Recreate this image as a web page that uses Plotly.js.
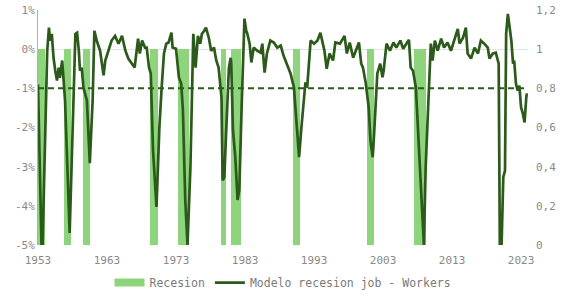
<!DOCTYPE html>
<html>
<head>
<meta charset="utf-8">
<script src="https://cdn.plot.ly/plotly-3.0.1.min.js"></script>
<style>
  html, body { margin: 0; padding: 0; background: #fff; }
  #chart { width: 584px; height: 300px; }
</style>
</head>
<body>
<div id="chart"></div>
<script>
// Recession model for job data (monthly, % change) with NBER-style recession periods.
const modelDates = [
  '1953-07','1954-01','1954-03','1954-11','1955-02','1955-04','1955-07','1955-10','1956-01','1956-04',
  '1956-07','1956-09','1957-01','1957-04','1957-06','1958-02','1958-09','1958-12','1959-03','1959-06',
  '1959-08','1959-11','1960-02','1960-08','1961-01','1961-03','1961-06','1961-09','1962-01','1962-07',
  '1963-01','1963-04','1963-09','1964-03','1964-09','1965-03','1965-09','1966-03','1966-08','1967-02',
  '1967-07','1968-01','1968-04','1968-08','1969-01','1969-04','1969-08','1969-11','1970-03','1970-09',
  '1971-02','1971-06','1971-10','1972-02','1972-06','1972-11','1973-01','1973-07','1973-12','1974-04',
  '1974-07','1974-11','1975-03','1975-08','1975-11','1976-01','1976-05','1976-09','1977-01','1977-04',
  '1977-08','1977-11','1978-04','1978-08','1979-01','1979-05','1979-09','1980-02','1980-04','1980-07',
  '1980-10','1981-01','1981-03','1981-06','1981-07','1981-10','1982-02','1982-06','1982-09','1983-01',
  '1983-04','1983-06','1983-09','1983-11','1984-03','1984-06','1984-10','1985-04','1985-10','1986-01',
  '1986-05','1986-09','1987-03','1987-09','1988-03','1988-09','1989-02','1989-08','1990-02','1990-08',
  '1991-01','1991-05','1991-09','1992-01','1992-04','1992-07','1992-10','1993-01','1993-07','1994-01',
  '1994-06','1994-08','1995-01','1995-05','1995-10','1996-04','1996-08','1997-04','1997-12','1998-04',
  '1998-09','1999-03','1999-09','2000-01','2000-05','2000-08','2001-01','2001-06','2001-09','2002-01',
  '2002-04','2002-07','2002-09','2003-02','2003-06','2003-08','2004-01','2004-07','2005-01','2005-06',
  '2006-01','2006-06','2006-12','2007-04','2007-07','2007-11','2008-04','2008-08','2009-01','2009-06',
  '2009-09','2010-04','2010-06','2010-09','2011-01','2011-06','2011-12','2012-05','2012-11','2013-05',
  '2013-11','2014-05','2014-08','2015-02','2015-07','2015-10','2016-04','2016-10','2017-04','2017-09',
  '2018-03','2018-09','2018-12','2019-06','2019-11','2020-04','2020-05','2020-06','2020-09','2020-12',
  '2021-03','2021-05','2021-08','2021-11','2022-02','2022-05','2022-07','2022-10','2023-01','2023-04',
  '2023-07','2023-10','2024-01','2024-04','2024-05'
];
const modelValues = [
  -0.9,-5.0,-5.0,-0.04,0.55,0.22,0.39,-0.22,-0.55,-0.8,
  -0.47,-0.73,-0.29,-0.8,-1.31,-4.69,-1.31,0.39,0.42,-0.04,
  -0.55,-0.47,-0.98,-1.31,-2.91,-2.4,-1.31,0.47,0.22,-0.04,
  -0.67,-0.29,-0.04,0.22,0.34,0.14,0.34,-0.04,-0.24,-0.37,
  -0.47,0.27,-0.11,0.22,0.04,0.04,-0.47,-0.62,-2.58,-4.03,
  -2.0,-0.98,-0.11,0.14,0.17,0.42,0.04,0.01,-0.73,-0.88,
  -1.56,-3.85,-5.0,-3.02,-0.47,0.39,-0.47,0.34,0.14,0.39,
  0.47,0.55,0.29,-0.04,0.04,-0.29,-0.47,-1.23,-3.35,-3.27,
  -2.15,-1.13,-0.47,-0.22,-0.37,-2.07,-2.76,-3.85,-3.6,-1.49,
  -0.04,0.78,0.47,0.39,0.14,-0.34,0.04,-0.04,-0.09,0.14,
  -0.6,-0.11,0.22,0.17,0.04,0.09,-0.17,-0.37,-0.62,-0.98,
  -2.07,-2.76,-2.0,-1.31,-0.85,-0.98,-0.47,0.22,0.14,0.22,
  0.42,0.29,-0.04,-0.5,-0.11,-0.29,0.17,0.14,0.34,-0.11,
  0.17,-0.22,0.04,0.17,-0.37,-0.47,-0.88,-1.49,-2.33,-2.76,
  -2.0,-1.31,-0.62,-0.37,-0.72,-0.55,0.14,-0.04,0.17,0.04,
  0.22,0.01,0.17,0.24,-0.47,-0.55,-0.98,-2.15,-3.85,-5.0,
  -3.02,-0.72,0.14,-0.29,0.22,-0.04,0.27,0.04,0.17,-0.04,
  0.22,0.52,0.14,0.29,0.55,-0.11,-0.24,0.04,-0.11,0.22,
  0.14,0.04,-0.24,-0.11,-0.09,-0.37,-2.58,-5.0,-5.0,-3.27,
  -3.1,0.39,0.9,0.55,0.22,-0.37,-0.29,-0.88,-1.06,-0.93,
  -1.49,-1.64,-1.87,-1.23,-1.13
];

// Recession periods (first and last month) and the signal threshold.
const recessionStart = ['1953-07','1957-05','1960-02','1969-10','1973-10','1980-01','1981-06','1990-07','2001-03','2008-01'];
const recessionEnd   = ['1954-06','1958-03','1961-01','1970-10','1975-04','1980-08','1982-11','1991-05','2002-02','2009-08'];
const recessionLevel = 1;
const threshold = -1;

// Axis ticks
const xTickVals = ['1953-07-01','1963-07-01','1973-07-01','1983-07-01','1993-07-01','2003-07-01','2013-07-01','2023-07-01'];
const xTickText = ['1953','1963','1973','1983','1993','2003','2013','2023'];
const leftTickVals = [1, 0, -1, -2, -3, -4, -5];
const leftTickText = ['1%', '0%', '-1%', '-2%', '-3%', '-4%', '-5%'];
const rightTickVals = [0, 0.2, 0.4, 0.6, 0.8, 1, 1.2];
const rightTickText = ['0', '0,2', '0,4', '0,6', '0,8', '1', '1,2'];

const BAR_GREEN = '#8dd47c';
const LINE_GREEN = '#2b5a1b';
const TEXT_GREY = '#8a8a8a';
const FONT = 'DejaVu Sans Mono, monospace';

// Each recession becomes one bar spanning its months.
function monthStart(s) { return Date.parse(s + '-01T00:00:00Z'); }
function nextMonth(s) {
  const [y, m] = s.split('-').map(Number);
  return Date.UTC(m === 12 ? y + 1 : y, m === 12 ? 0 : m, 1);
}
const barX = [], barW = [], barY = [];
recessionStart.forEach((s, i) => {
  const a = monthStart(s), b = nextMonth(recessionEnd[i]);
  barX.push(new Date((a + b) / 2).toISOString());
  barW.push(b - a);
  barY.push(recessionLevel);
});

const xFirst = modelDates[0];
const xLast = modelDates[modelDates.length - 1];

const traces = [
  {
    type: 'bar', x: barX, y: barY, width: barW,
    marker: { color: BAR_GREEN, line: { width: 0 } },
    xaxis: 'x', yaxis: 'y', showlegend: false, hoverinfo: 'skip', name: 'Recesion'
  },
  {
    type: 'scatter', mode: 'lines', x: [null], y: [null],
    line: { color: BAR_GREEN, width: 8 },
    xaxis: 'x', yaxis: 'y2', name: 'Recesion', showlegend: true
  },
  {
    type: 'scatter', mode: 'lines', x: [xFirst, xLast], y: [threshold, threshold],
    line: { color: LINE_GREEN, width: 2, dash: '6px,4px' },
    xaxis: 'x', yaxis: 'y2', showlegend: false, hoverinfo: 'skip'
  },
  {
    type: 'scatter', mode: 'lines', x: modelDates, y: modelValues,
    line: { color: LINE_GREEN, width: 2.7 },
    xaxis: 'x', yaxis: 'y2', name: 'Modelo recesion job - Workers'
  }
];

const layout = {
  width: 584, height: 300,
  margin: { l: 38, r: 56, t: 10, b: 55, autoexpand: false },
  paper_bgcolor: '#ffffff', plot_bgcolor: '#ffffff',
  font: { family: FONT, size: 11, color: TEXT_GREY },
  bargap: 0,
  xaxis: {
    type: 'date', range: ['1953-07-01', '2024-07-01'],
    tickmode: 'array', tickvals: xTickVals, ticktext: xTickText,
    showgrid: false, zeroline: false, showline: false, ticks: '',
    ticklabelstandoff: 7, automargin: false,
    tickfont: { family: FONT, size: 11, color: TEXT_GREY }
  },
  yaxis: {
    side: 'right', range: [0, 1.2],
    tickmode: 'array', tickvals: rightTickVals, ticktext: rightTickText,
    showgrid: false, zeroline: false, showline: false, ticks: '',
    ticklabelstandoff: 7, automargin: false,
    tickfont: { family: FONT, size: 11, color: TEXT_GREY }
  },
  yaxis2: {
    overlaying: 'y', side: 'left', range: [-5, 1],
    tickmode: 'array', tickvals: leftTickVals, ticktext: leftTickText,
    showgrid: false, zeroline: true, zerolinecolor: '#e3e3e3', zerolinewidth: 1,
    showline: true, linecolor: '#b0b0b0', linewidth: 1, ticks: '', automargin: false,
    tickfont: { family: FONT, size: 11, color: TEXT_GREY }
  },
  legend: {
    orientation: 'h', x: 0.5, xanchor: 'center', y: -0.16, yanchor: 'middle',
    font: { family: FONT, size: 11.5, color: '#7a7a7a' },
    itemwidth: 30, traceorder: 'normal'
  },
  showlegend: true
};

Plotly.newPlot('chart', traces, layout, { staticPlot: true, displayModeBar: false });
</script>
</body>
</html>
